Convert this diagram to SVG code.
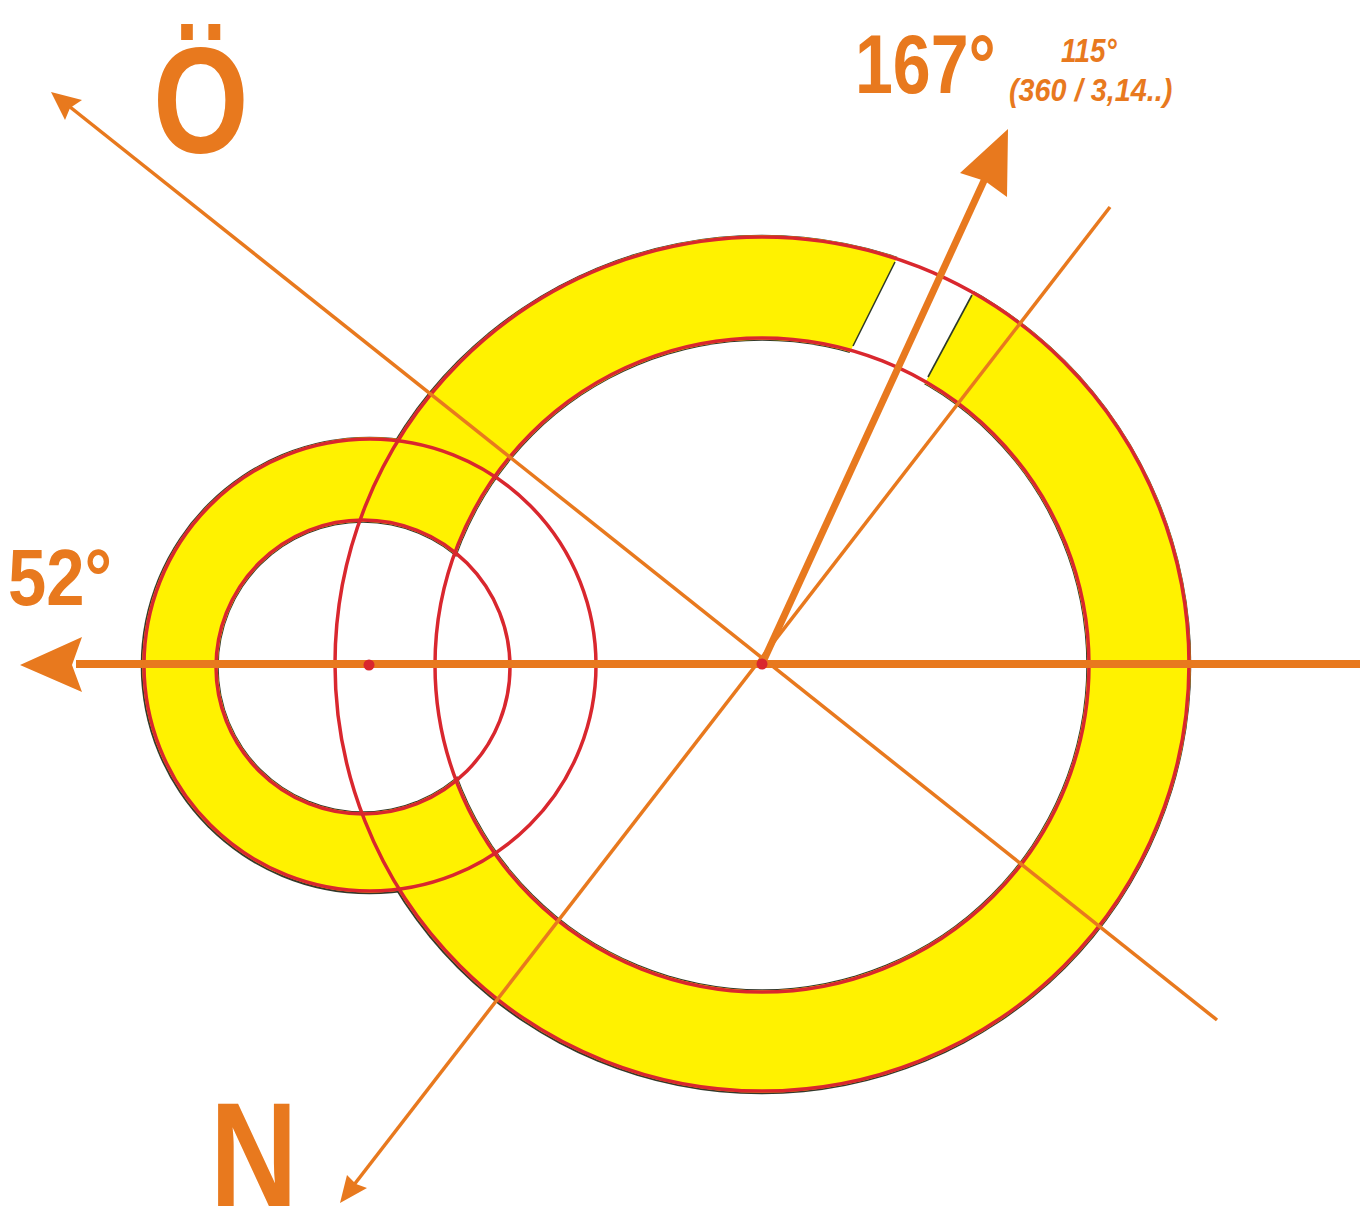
<svg xmlns="http://www.w3.org/2000/svg" width="1362" height="1211" viewBox="0 0 1362 1211">
<style>
.dark{fill:#34382a}
.yel{fill:#fff200}
.wht{fill:#ffffff}
.red{fill:none;stroke:#d9272e;stroke-width:3.5}
.edge{stroke:#2e3a28;stroke-width:1.6;fill:none}
.thick{stroke:#e8791e;stroke-width:8;fill:none}
.thin{stroke:#e8791e;stroke-width:3.5;fill:none}
.head{fill:#e8791e}
.lbl{fill:#e8791e;font-family:"Liberation Sans",Arial,sans-serif;font-weight:bold}
.it{font-style:italic}
.dot{fill:#d9272e}
</style>
<g id="ring-shading">
  <circle class="dark" cx="761.5" cy="664.5" r="429.8"/>
  <circle class="dark" cx="369.5" cy="665.5" r="228.8"/>
  <circle class="yel" cx="762" cy="664" r="428.7"/>
  <circle class="yel" cx="370" cy="665" r="227.7"/>
  <circle class="dark" cx="762" cy="665" r="325.2"/>
  <circle class="dark" cx="363" cy="667" r="145.2"/>
  <circle class="wht" cx="762" cy="665" r="324.3"/>
  <circle class="wht" cx="363" cy="667" r="144.3"/>
  <polygon class="wht" points="905,242 982,276 918,396 843,366"/>
  <line class="edge" x1="895" y1="262" x2="853" y2="346"/>
  <line class="edge" x1="972" y1="295" x2="928" y2="377"/>
</g>
<g id="circles">
  <circle id="big-outer" class="red" cx="762" cy="664" r="427"/>
  <circle id="big-inner" class="red" cx="762" cy="665" r="327"/>
  <circle id="small-outer" class="red" cx="370" cy="665" r="226"/>
  <circle id="small-inner" class="red" cx="363" cy="667" r="147"/>
</g>
<g id="connectors">
  <line class="thick" x1="1360" y1="664" x2="76" y2="664"/>
  <polygon class="head" points="20,665 82,637 72,665 82,692"/>
  <line class="thin" x1="1217" y1="1020" x2="60" y2="99"/>
  <polygon class="head" points="51,92 82,100 70,108 65,120"/>
  <line class="thin" x1="1110" y1="207" x2="350" y2="1190"/>
  <polygon class="head" points="340,1203 347,1175 356,1184 367,1188"/>
  <line class="thick" x1="762" y1="664" x2="988" y2="172" style="stroke-width:7"/>
  <polygon class="head" points="1008,129 1007,197 985,181 960,173"/>
</g>
<g id="centers">
  <circle class="dot" cx="762" cy="664" r="5.5"/>
  <circle class="dot" cx="369" cy="665" r="5.5"/>
</g>
<g id="labels">
  <text id="label-oe" class="lbl" font-size="150" transform="translate(153,153) scale(0.82,1)">Ö</text>
  <text id="label-167" class="lbl" font-size="84" transform="translate(855,93) scale(0.81,1)">167°</text>
  <text id="label-115" class="lbl it" font-size="34" transform="translate(1061,62) scale(0.82,1)">115°</text>
  <text id="label-pi" class="lbl it" font-size="32" transform="translate(1009,101) scale(0.9,1)">(360 / 3,14..)</text>
  <text id="label-52" class="lbl" font-size="80" transform="translate(8,605) scale(0.86,1)">52°</text>
  <text id="label-n" class="lbl" font-size="148" transform="translate(210,1206) scale(0.82,1)">N</text>
</g>
</svg>
